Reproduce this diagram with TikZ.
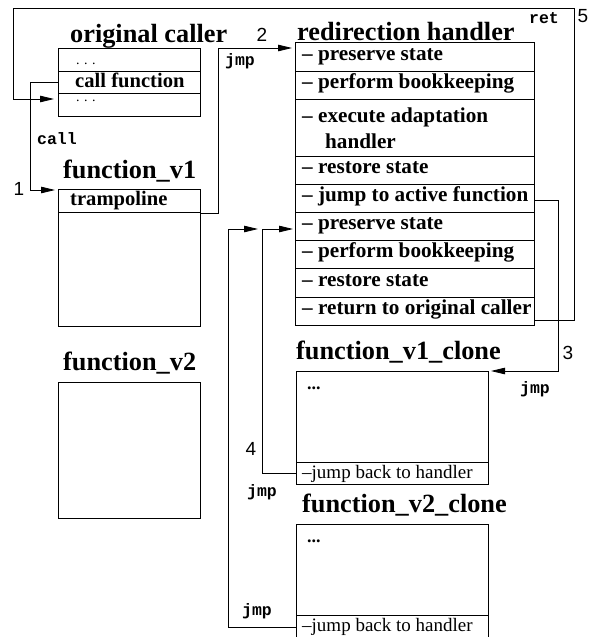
\documentclass[tikz,border=0pt]{standalone}
\usepackage{fontspec}
\setmainfont{Liberation Serif}
\newfontfamily\monofam{Liberation Mono}
\newfontfamily\sansfam{Liberation Sans}
\usetikzlibrary{arrows.meta,calc}
\newcommand\ttlfont{\fontsize{26.3}{30}\selectfont\bfseries}
\newcommand\rowfont{\fontsize{21.2}{26}\selectfont\bfseries}
\newcommand\regfont{\fontsize{19}{23}\selectfont}
\newcommand\labfont{\fontsize{16.5}{20}\selectfont\monofam\bfseries}
\newcommand\numfont{\fontsize{19}{22}\selectfont\sansfam}
\newcommand\tinydots{{\fontsize{14}{16}\selectfont .\hspace{4.5pt}.\hspace{4.5pt}.}}
\begin{document}
\begin{tikzpicture}[x=1pt,y=-1pt,
  box/.style={draw,line width=0.9pt,anchor=north west,inner sep=0pt},
  ttl/.style={anchor=base west,inner sep=0pt,font=\ttlfont},
  rtext/.style={anchor=base west,inner sep=0pt,font=\rowfont},
  rgtext/.style={anchor=base west,inner sep=0pt,font=\regfont},
  lab/.style={inner sep=0pt,font=\labfont},
  num/.style={inner sep=0pt,font=\numfont},
  conn/.style={line width=0.8pt,-{Triangle[length=14pt,width=6.5pt]}}]
\useasboundingbox (0,0) rectangle (603,637);

% original caller
\node[ttl] (tOC) at (70,42) {original caller};
\node[box,minimum width=142pt,minimum height=23pt] (oc1) at (58,48) {};
\node[box,minimum width=142pt,minimum height=22pt] (oc2) at (58,71) {};
\node[box,minimum width=142pt,minimum height=23pt] (oc3) at (58,93) {};
\node[anchor=base west,inner sep=0pt] (oc1t) at (76,64) {\tinydots};
\node[rtext,font=\fontsize{20.6}{24}\selectfont\bfseries] (oc2t) at (75,87) {call function};
\node[anchor=base west,inner sep=0pt] (oc3t) at (76,101) {\tinydots};

% function_v1
\node[ttl] (tF1) at (63,178) {function\_v1};
\node[box,minimum width=142pt,minimum height=23pt] (f1a) at (58,189) {};
\node[box,minimum width=142pt,minimum height=114pt] (f1b) at (58,212) {};
\node[rtext,font=\fontsize{20.6}{24}\selectfont\bfseries] (f1at) at (70,205) {trampoline};

% function_v2
\node[ttl] (tF2) at (63,370) {function\_v2};
\node[box,minimum width=142pt,minimum height=136pt] (f2) at (58,382) {};

% redirection handler
\node[ttl] (tRH) at (297,40.5) {redirection handler};
\node[box,minimum width=239pt,minimum height=29pt] (r1) at (295,42) {};
\node[box,minimum width=239pt,minimum height=28pt] (r2) at (295,71) {};
\node[box,minimum width=239pt,minimum height=57pt] (r3) at (295,99) {};
\node[box,minimum width=239pt,minimum height=28pt] (r4) at (295,156) {};
\node[box,minimum width=239pt,minimum height=28pt] (r5) at (295,184) {};
\node[box,minimum width=239pt,minimum height=28pt] (r6) at (295,212) {};
\node[box,minimum width=239pt,minimum height=28pt] (r7) at (295,240) {};
\node[box,minimum width=239pt,minimum height=29pt] (r8) at (295,268) {};
\node[box,minimum width=239pt,minimum height=28pt] (r9) at (295,297) {};
\node[rtext] (r1t) at (302,60) {– preserve state};
\node[rtext] (r2t) at (302,88) {– perform bookkeeping};
\node[rtext] (r3t) at (302,122) {– execute adaptation};
\node[rtext] (r3u) at (325,148) {handler};
\node[rtext] (r4t) at (302,173) {– restore state};
\node[rtext] (r5t) at (302,201) {– jump to active function};
\node[rtext] (r6t) at (302,229) {– preserve state};
\node[rtext] (r7t) at (302,257) {– perform bookkeeping};
\node[rtext] (r8t) at (302,286) {– restore state};
\node[rtext] (r9t) at (302,314) {– return to original caller};

% function_v1_clone
\node[ttl] (tC1) at (296,359) {function\_v1\_clone};
\node[box,minimum width=192pt,minimum height=91pt] (c1a) at (296,371) {};
\node[box,minimum width=192pt,minimum height=22pt] (c1b) at (296,462) {};
\node[rtext,font=\fontsize{18}{20}\selectfont\bfseries] (c1at) at (307,389) {...};
\node[rgtext] (c1bt) at (302,478) {–jump back to handler};

% function_v2_clone
\node[ttl] (tC2) at (302,512) {function\_v2\_clone};
\node[box,minimum width=192pt,minimum height=91pt] (c2a) at (296,524) {};
\node[box,minimum width=192pt,minimum height=23pt] (c2b) at (296,615) {};
\node[rtext,font=\fontsize{18}{20}\selectfont\bfseries] (c2at) at (307,542) {...};
\node[rgtext] (c2bt) at (302,631) {–jump back to handler};

% arrow end points
\coordinate (retend) at (54,99);
\coordinate (callend) at (55,190);
\coordinate (j2end) at (292,48);
\coordinate (j3end) at (491,371);
\coordinate (j4end) at (293,229);
\coordinate (j5end) at (258,229);

% connectors
\draw[conn] ($(r9.east)+(0,9)$) -- ++(39,0) |- (13,8) |- (retend);
\draw[conn] (oc2.west) -- ++(-28,0) |- (callend);
\draw[conn] (f1a.south east) -- ++(17,0) |- (j2end);
\draw[conn] ($(r5.east)+(0,2)$) -- ++(23,0) |- (j3end);
\draw[conn] (c1b.west) -- ++(-34,0) |- (j4end);
\draw[conn] (c2b.west) -- ++(-68,0) |- (j5end);

% labels
\node[lab] (lret) at (544,18) {ret};
\node[num] (n5) at (583,16) {5};
\node[num] (n2) at (262,35) {2};
\node[lab] (ljmp2) at (240,61) {jmp};
\node[lab] (lcall) at (57,139) {call};
\node[num] (n1) at (19,189) {1};
\node[num] (n3) at (568,353) {3};
\node[lab] (ljmp3) at (535,389) {jmp};
\node[num] (n4) at (251,449) {4};
\node[lab] (ljmp4) at (262,492) {jmp};
\node[lab] (ljmp5) at (257,611) {jmp};
\end{tikzpicture}
\end{document}
